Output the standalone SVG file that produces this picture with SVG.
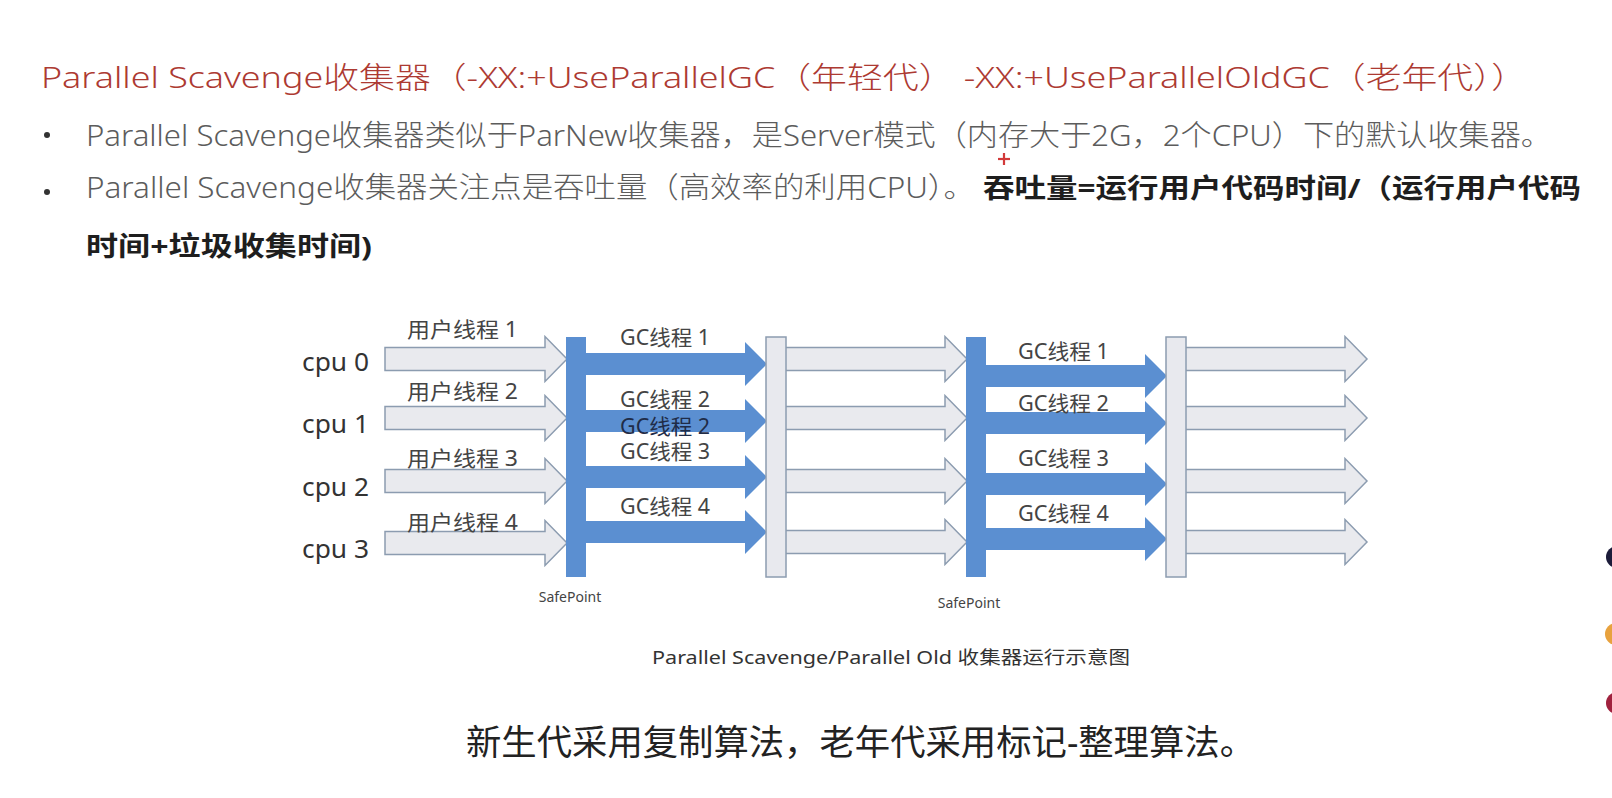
<svg xmlns="http://www.w3.org/2000/svg" width="1612" height="798" viewBox="0 0 1612 798">
  <style>
    text { font-family: "Noto Sans", "Noto Sans CJK SC", sans-serif; }
    .title { font-size: 30px; fill: #ad3a32; font-weight: 300; }
    .body { font-size: 29px; fill: #5c5c5c; font-weight: 300; }
    .strong { font-size: 27px; fill: #1e1e1e; font-weight: bold; }
    .cpu { font-size: 26px; fill: #333333; }
    .lbl { font-size: 21px; fill: #444444; }
    .lbl-dark { font-size: 21px; fill: #1f2c48; }
    .sp { font-size: 14px; fill: #444444; }
    .cap { font-size: 18px; fill: #333333; }
    .foot { font-size: 35px; fill: #222222; }
    .bar-blue { fill: #5b8fd1; }
    .bar-light { fill: #e8e9ee; stroke: #8c9cb0; stroke-width: 1.5; }
    .arrow-light { fill: #e9eaee; stroke: #8c9cb0; stroke-width: 1.5; stroke-linejoin: miter; }
    .arrow-blue { fill: #5b8fd1; }
  </style>
  <defs>
    <!-- block arrows, tail centred at the origin -->
    <path id="run-arrow" class="arrow-light" d="M0,-11.5 H160 V-22.5 L182,0 L160,22.5 V11.5 H0 Z"/>
    <path id="gc-arrow" class="arrow-blue" d="M0,-11 H159 V-22 L181,0 L159,22 V11 H0 Z"/>
  </defs>

  <rect width="1612" height="798" fill="#ffffff"/>

  <!-- heading and bullet points -->
  <g id="heading">
    <text class="title" x="41" y="88" textLength="1486" lengthAdjust="spacingAndGlyphs">Parallel Scavenge收集器（-XX:+UseParallelGC（年轻代） -XX:+UseParallelOldGC（老年代））</text>
  </g>
  <g id="bullet-1">
    <circle cx="47" cy="135" r="3" fill="#333333"/>
    <text class="body" x="86" y="146" textLength="1466" lengthAdjust="spacingAndGlyphs">Parallel Scavenge收集器类似于ParNew收集器，是Server模式（内存大于2G，2个CPU）下的默认收集器。</text>
  </g>
  <g id="bullet-2">
    <circle cx="47" cy="192" r="3" fill="#333333"/>
    <text class="body" x="86" y="198" textLength="889" lengthAdjust="spacingAndGlyphs">Parallel Scavenge收集器关注点是吞吐量（高效率的利用CPU）。</text>
    <text class="strong" x="983" y="198" textLength="598" lengthAdjust="spacingAndGlyphs">吞吐量=运行用户代码时间/（运行用户代码</text>
    <text class="strong" x="86" y="256" textLength="286" lengthAdjust="spacingAndGlyphs">时间+垃圾收集时间)</text>
  </g>
  <!-- pointer crosshair -->
  <g id="cursor" stroke="#d23a3a" stroke-width="2.2">
    <line x1="998" y1="159" x2="1010" y2="159"/>
    <line x1="1004" y1="153" x2="1004" y2="165"/>
  </g>

  <!-- CPU row labels -->
  <g id="cpu-labels">
    <text class="cpu" x="302" y="371" textLength="67" lengthAdjust="spacingAndGlyphs">cpu 0</text>
    <text class="cpu" x="302" y="433" textLength="67" lengthAdjust="spacingAndGlyphs">cpu 1</text>
    <text class="cpu" x="302" y="496" textLength="67" lengthAdjust="spacingAndGlyphs">cpu 2</text>
    <text class="cpu" x="302" y="558" textLength="67" lengthAdjust="spacingAndGlyphs">cpu 3</text>
  </g>

  <!-- thread arrows -->
  <g id="connectors">
    <!-- user threads before the first safepoint -->
    <use href="#run-arrow" x="385" y="359"/>
    <use href="#run-arrow" x="385" y="418"/>
    <use href="#run-arrow" x="385" y="481"/>
    <use href="#run-arrow" x="385" y="543"/>
    <!-- young-generation GC threads -->
    <use href="#gc-arrow" x="586" y="364"/>
    <use href="#gc-arrow" x="586" y="421"/>
    <use href="#gc-arrow" x="586" y="477"/>
    <use href="#gc-arrow" x="586" y="532"/>
    <!-- user threads resumed -->
    <use href="#run-arrow" x="785" y="359"/>
    <use href="#run-arrow" x="785" y="418"/>
    <use href="#run-arrow" x="785" y="481"/>
    <use href="#run-arrow" x="785" y="542"/>
    <!-- old-generation GC threads -->
    <use href="#gc-arrow" x="986" y="376"/>
    <use href="#gc-arrow" x="986" y="423"/>
    <use href="#gc-arrow" x="986" y="484"/>
    <use href="#gc-arrow" x="986" y="539"/>
    <!-- user threads after the second collection -->
    <use href="#run-arrow" x="1185" y="359"/>
    <use href="#run-arrow" x="1185" y="418"/>
    <use href="#run-arrow" x="1185" y="481"/>
    <use href="#run-arrow" x="1185" y="542"/>
  </g>

  <!-- safepoint / resume bars -->
  <g id="safepoint-1">
    <rect class="bar-blue" x="566" y="337" width="20" height="240"/>
    <text class="sp" x="570" y="602" text-anchor="middle">SafePoint</text>
  </g>
  <g id="resume-1">
    <rect class="bar-light" x="766" y="337" width="20" height="240"/>
  </g>
  <g id="safepoint-2">
    <rect class="bar-blue" x="966" y="337" width="20" height="240"/>
    <text class="sp" x="969" y="608" text-anchor="middle">SafePoint</text>
  </g>
  <g id="resume-2">
    <rect class="bar-light" x="1166" y="337" width="20" height="240"/>
  </g>

  <!-- thread labels -->
  <g id="user-thread-labels">
    <text class="lbl" x="407" y="337" textLength="111" lengthAdjust="spacingAndGlyphs">用户线程 1</text>
    <text class="lbl" x="407" y="399" textLength="111" lengthAdjust="spacingAndGlyphs">用户线程 2</text>
    <text class="lbl" x="407" y="466" textLength="111" lengthAdjust="spacingAndGlyphs">用户线程 3</text>
    <text class="lbl" x="407" y="530" textLength="111" lengthAdjust="spacingAndGlyphs">用户线程 4</text>
  </g>
  <g id="gc-thread-labels-young">
    <text class="lbl" x="620" y="345" textLength="90" lengthAdjust="spacingAndGlyphs">GC线程 1</text>
    <text class="lbl" x="620" y="407" textLength="90" lengthAdjust="spacingAndGlyphs">GC线程 2</text>
    <text class="lbl-dark" x="620" y="434" textLength="90" lengthAdjust="spacingAndGlyphs">GC线程 2</text>
    <text class="lbl" x="620" y="459" textLength="90" lengthAdjust="spacingAndGlyphs">GC线程 3</text>
    <text class="lbl" x="620" y="514" textLength="90" lengthAdjust="spacingAndGlyphs">GC线程 4</text>
  </g>
  <g id="gc-thread-labels-old">
    <text class="lbl" x="1018" y="359" textLength="91" lengthAdjust="spacingAndGlyphs">GC线程 1</text>
    <text class="lbl" x="1018" y="411" textLength="91" lengthAdjust="spacingAndGlyphs">GC线程 2</text>
    <text class="lbl" x="1018" y="466" textLength="91" lengthAdjust="spacingAndGlyphs">GC线程 3</text>
    <text class="lbl" x="1018" y="521" textLength="91" lengthAdjust="spacingAndGlyphs">GC线程 4</text>
  </g>

  <!-- caption and summary -->
  <g id="caption">
    <text class="cap" x="652" y="664" textLength="478" lengthAdjust="spacingAndGlyphs">Parallel Scavenge/Parallel Old 收集器运行示意图</text>
  </g>
  <g id="summary">
    <text class="foot" x="466" y="755" textLength="789" lengthAdjust="spacingAndGlyphs">新生代采用复制算法，老年代采用标记-整理算法。</text>
  </g>

  <!-- page markers at the right edge -->
  <g id="edge-markers">
    <circle cx="1617" cy="557" r="11" fill="#1c1c3a"/>
    <circle cx="1616" cy="634" r="11" fill="#e8a23e"/>
    <circle cx="1617" cy="703" r="11" fill="#a0223e"/>
  </g>
</svg>
